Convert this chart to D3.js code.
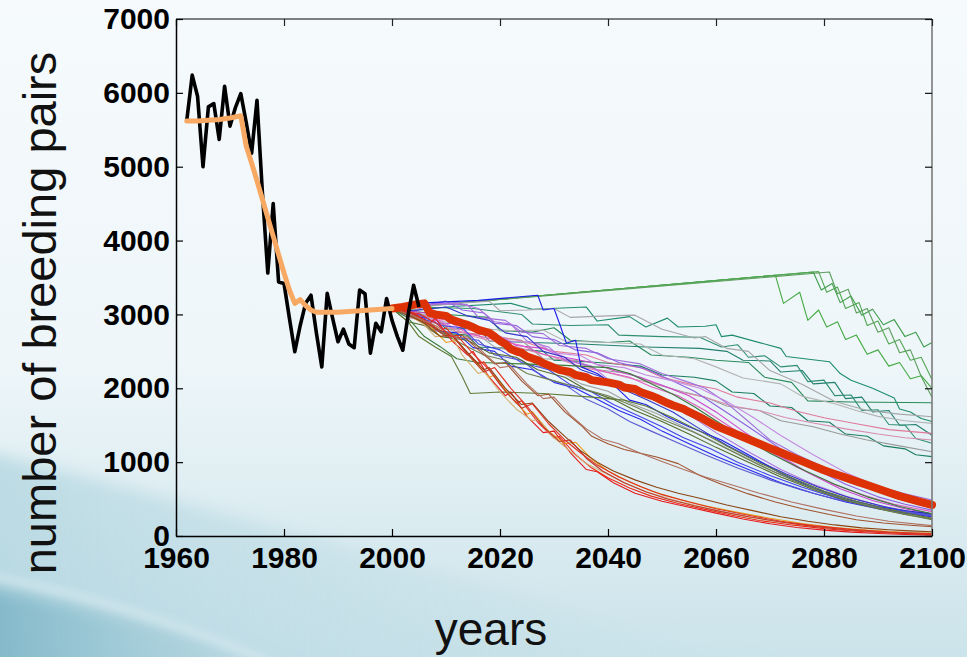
<!DOCTYPE html>
<html>
<head>
<meta charset="utf-8">
<script src="https://cdn.jsdelivr.net/npm/d3@7"></script>
<style>
  html, body { margin: 0; padding: 0; background: #f4f9fb; }
  svg { display: block; }
  .tick text { font-family: "Liberation Sans", Arial, sans-serif; font-weight: bold; font-size: 30px; fill: #000; }
  .title { font-family: "Liberation Sans", Arial, sans-serif; fill: #111; }
</style>
</head>
<body>
<svg id="chart" width="967" height="657"></svg>
<script>
// ---- axis ticks ----
const yearTicks = [1960, 1980, 2000, 2020, 2040, 2060, 2080, 2100];
const pairTicks = [0, 1000, 2000, 3000, 4000, 5000, 6000, 7000];

// ---- observed breeding pairs (census counts) ----
const observed = [
  [1962,5630],[1963,6240],[1964,5950],[1965,5000],[1966,5810],[1967,5855],[1968,5370],
  [1969,6090],[1970,5550],[1971,5800],[1972,5990],[1973,5600],[1974,5180],[1975,5900],
  [1976,4650],[1977,3560],[1978,4500],[1979,3440],[1980,3420],[1981,2950],[1982,2495],
  [1983,2850],[1984,3150],[1985,3260],[1986,2750],[1987,2290],[1988,3285],[1989,2950],
  [1990,2630],[1991,2800],[1992,2600],[1993,2550],[1994,3330],[1995,3280],[1996,2475],
  [1997,2880],[1998,2765],[1999,3215],[2000,2920],[2001,2700],[2002,2515],[2003,3000],
  [2004,3395],[2005,3100]
];

// ---- fitted model over the census period ----
const modelFit = [
  [1962,5620],[1964,5620],[1966,5630],[1968,5640],[1970,5660],[1972,5690],[1973,5280],
  [1974,5050],[1975,4810],[1976,4560],[1977,4310],[1978,4060],[1979,3810],[1980,3560],
  [1981,3330],[1982,3150],[1983,3200],[1984,3120],[1985,3060],[1986,3030],[1988,3030],
  [1990,3030],[1992,3040],[1994,3050],[1996,3060],[1998,3070],[2000,3080]
];

// ---- mean of the projected runs ----
const meanProjection = [
  [2000,3080],[2002,3100],[2004,3130],[2006,3150],[2007,3020],[2008,3000],[2010,2980],
  [2011,2930],[2013,2880],[2014,2860],[2016,2790],[2018,2750],[2019,2700],[2020,2640],
  [2021,2600],[2022,2530],[2023,2500],[2024,2480],[2025,2430],[2027,2380],[2028,2340],
  [2030,2280],[2031,2250],[2033,2220],[2034,2180],[2036,2150],[2037,2110],[2039,2090],
  [2040,2080],[2042,2050],[2043,2010],[2045,1990],[2046,1950],[2048,1900],[2049,1870],
  [2051,1800],[2052,1770],[2054,1720],[2055,1680],[2057,1610],[2058,1570],[2060,1490],
  [2062,1430],[2064,1370],[2066,1310],[2068,1250],[2070,1190],[2072,1130],[2074,1070],
  [2076,1010],[2078,950],[2080,890],[2082,840],[2084,790],[2086,740],[2088,690],
  [2090,640],[2092,590],[2094,540],[2096,500],[2098,460],[2100,420]
];

// ---- individual stochastic projection runs ----
const runColors = [
  "#44aa44","#3c9e4a","#52a852","#5c9e5c",
  "#1e8c6c","#2a8a5a","#23806e","#2f8f6f","#1a7d5e",
  "#a6a6a6","#b4b4b4","#9a9a9a","#a0a0a0",
  "#e07a9a","#d88cb0",
  "#a070d8","#cc44cc","#8f5fe0","#c58ae0","#e05cc0","#b070e0",
  "#1c1ce8","#2828f0","#3434c8","#4444ea","#5a5ad2",
  "#556b2f","#5f7a35","#6f7f4f","#3a7a3a",
  "#e41a1c","#f02a14","#e8a020","#d4b070","#a0522d","#8b4513","#c0392b","#b07060","#e03020"
];

const runs = [
  // green
  [[2000,3080],[2005,3110],[2071,3530],[2072.5,3150],[2075.5,3300],[2077,2920],[2079,3060],[2080.5,2830],[2082.5,2900],[2084,2660],[2086,2720],[2088,2460],[2090,2520],[2092,2300],[2094,2350],[2096,2130],[2098,2170],[2100,2000]],
  [[2000,3080],[2005,3110],[2078,3575],[2079.5,3330],[2081.5,3420],[2083,3160],[2085,3250],[2087,2990],[2089,3070],[2091,2860],[2093,2930],[2095,2700],[2097,2760],[2098.5,2560],[2100,2620]],
  [[2000,3080],[2005,3110],[2079,3580],[2080.5,3300],[2082.5,3370],[2084,3080],[2086.5,3160],[2088,2850],[2090,2910],[2092,2600],[2094,2660],[2096,2380],[2098,2420],[2100,2120]],
  [[2000,3080],[2005,3110],[2081,3575],[2082.5,3280],[2084.5,3340],[2086,3020],[2088,3080],[2090,2760],[2092,2820],[2094,2480],[2096,2520],[2098,2160],[2100,1880]],
  // teal
  [[2000,3080],[2004,3060],[2012,3110],[2022,3150],[2026,3070],[2036,3100],[2038,2910],[2044,2970],[2047,2830],[2051,2950],[2053,2830],[2058,2840],[2060,2860],[2061,2700],[2063,2720],[2072,2540],[2073,2430],[2081,2360],[2083,2200],[2085,2110],[2089,2000],[2093,1870],[2094,1720],[2096,1680],[2098,1590],[2100,1550]],
  [[2000,3080],[2004,3040],[2010,3000],[2018,2960],[2020,2780],[2026,2760],[2030,2820],[2033,2650],[2040,2620],[2044,2640],[2048,2450],[2055,2420],[2060,2380],[2066,2350],[2069,2150],[2074,2080],[2077,1830],[2085,1815],[2100,1805]],
  [[2000,3080],[2003,3000],[2008,2960],[2010,2800],[2016,2820],[2018,2640],[2026,2620],[2035,2600],[2047,2560],[2057,2540],[2062,2500],[2065,2380],[2070,2370],[2072,2220],[2076,2240],[2078,2060],[2082,2080],[2084,1860],[2087,1880],[2089,1680],[2092,1700],[2094,1500],[2097,1510],[2100,1365]],
  [[2000,3080],[2004,3100],[2015,3080],[2024,3000],[2026,2870],[2033,2850],[2040,2860],[2042,2720],[2050,2700],[2057,2690],[2061,2560],[2064,2590],[2066,2420],[2069,2440],[2072,2290],[2075,2310],[2077,2090],[2080,2110],[2082,1900],[2085,1910],[2087,1700],[2090,1710],[2092,1510],[2095,1500],[2097,1320],[2100,1255]],
  [[2000,3080],[2003,2980],[2007,2900],[2009,2750],[2014,2720],[2016,2560],[2022,2540],[2028,2500],[2030,2380],[2036,2360],[2040,2340],[2046,2300],[2050,2180],[2056,2150],[2060,2100],[2063,1950],[2067,1930],[2070,1760],[2074,1740],[2077,1560],[2081,1540],[2084,1380],[2088,1350],[2091,1220],[2095,1180],[2097,1100],[2100,1075]],
  // grey
  [[2000,3080],[2004,3090],[2012,3150],[2018,3180],[2020,3050],[2025,3060],[2030,3080],[2033,2960],[2040,2980],[2045,2990],[2050,2800],[2056,2680],[2058,2700],[2062,2540],[2066,2500],[2070,2240],[2076,2050],[2082,1820],[2088,1700],[2094,1650],[2100,1615]],
  [[2000,3080],[2003,3010],[2010,2980],[2014,2820],[2022,2780],[2028,2790],[2032,2640],[2040,2620],[2046,2600],[2050,2450],[2056,2400],[2060,2290],[2065,2140],[2072,2060],[2076,1890],[2082,1790],[2086,1700],[2090,1620],[2095,1560],[2100,1525]],
  [[2000,3080],[2004,3050],[2009,2900],[2015,2880],[2019,2700],[2024,2650],[2028,2400],[2034,2380],[2038,2250],[2044,2200],[2049,2050],[2054,1950],[2058,1880],[2062,1760],[2068,1700],[2072,1560],[2078,1480],[2083,1380],[2088,1300],[2094,1220],[2100,1140]],
  [[2000,3080],[2003,3020],[2008,2950],[2011,2780],[2016,2720],[2019,2560],[2024,2480],[2027,2300],[2031,2230],[2035,2060],[2040,1960],[2044,1800],[2049,1660],[2054,1480],[2059,1300],[2065,1080],[2071,860],[2077,680],[2083,520],[2089,400],[2095,310],[2100,245]],
  // pink
  [[2000,3080],[2004,3010],[2008,2950],[2012,2760],[2018,2720],[2024,2640],[2030,2500],[2036,2450],[2040,2350],[2046,2280],[2050,2150],[2055,2060],[2060,1990],[2064,1880],[2070,1800],[2075,1690],[2080,1600],[2086,1520],[2092,1440],[2100,1390]],
  [[2000,3080],[2003,2960],[2010,2850],[2015,2700],[2020,2620],[2026,2500],[2030,2420],[2035,2290],[2040,2210],[2045,2120],[2050,2040],[2054,1940],[2058,1880],[2063,1760],[2068,1700],[2073,1600],[2078,1530],[2084,1450],[2090,1380],[2095,1330],[2100,1300]],
  // purple / magenta
  [[2000,3080],[2004,3050],[2008,3150],[2014,3130],[2016,2960],[2021,2920],[2024,2760],[2028,2740],[2031,2580],[2036,2540],[2040,2400],[2046,2330],[2050,2200],[2055,2080],[2058,2000],[2062,1800],[2066,1550],[2070,1300],[2075,1100],[2080,930],[2085,790],[2090,670],[2095,570],[2100,487]],
  [[2000,3080],[2003,3050],[2007,3010],[2009,2870],[2013,2890],[2016,2740],[2020,2700],[2023,2580],[2028,2540],[2032,2420],[2037,2350],[2041,2240],[2046,2150],[2050,2040],[2055,1900],[2060,1680],[2065,1420],[2071,1120],[2077,860],[2083,640],[2089,480],[2095,370],[2100,300]],
  [[2000,3080],[2004,3100],[2010,3180],[2013,3060],[2017,3020],[2019,2880],[2023,2850],[2026,2700],[2030,2660],[2034,2520],[2038,2480],[2042,2350],[2047,2260],[2052,2100],[2056,1960],[2061,1720],[2066,1480],[2072,1180],[2078,920],[2084,700],[2090,530],[2095,430],[2100,350]],
  [[2000,3080],[2004,2990],[2009,2910],[2012,2800],[2018,2770],[2022,2640],[2027,2610],[2030,2480],[2035,2440],[2038,2320],[2043,2280],[2047,2180],[2052,2100],[2057,2000],[2062,1820],[2067,1600],[2072,1360],[2078,1100],[2084,860],[2090,670],[2095,540],[2100,430]],
  [[2000,3080],[2003,3000],[2006,2910],[2010,2930],[2014,2740],[2019,2660],[2024,2580],[2028,2460],[2033,2380],[2038,2250],[2044,2150],[2048,2020],[2053,1900],[2058,1700],[2063,1460],[2069,1180],[2075,930],[2081,720],[2087,560],[2093,430],[2100,330]],
  [[2000,3080],[2005,3120],[2012,3160],[2016,3080],[2019,2900],[2022,2870],[2025,2640],[2029,2560],[2032,2380],[2037,2300],[2040,2120],[2045,2020],[2050,1860],[2055,1640],[2060,1400],[2066,1140],[2072,900],[2078,700],[2084,540],[2090,420],[2095,330],[2100,265]],
  // blue
  [[2000,3080],[2004,3150],[2016,3190],[2027,3260],[2028,3060],[2030,3080],[2031,2880],[2032.3,2610],[2034,2650],[2035,2290],[2038,2200],[2041,2050],[2044,1840],[2047,1780],[2051,1615],[2055,1480],[2061,1300],[2066,1100],[2072,850],[2078,650],[2084,500],[2090,400],[2095,340],[2100,300]],
  [[2000,3080],[2003,3000],[2006,2950],[2008,2780],[2012,2750],[2015,2550],[2019,2500],[2022,2300],[2026,2250],[2030,2080],[2034,2000],[2038,1850],[2042,1700],[2046,1580],[2050,1420],[2055,1250],[2060,1080],[2066,900],[2072,720],[2078,580],[2084,460],[2090,370],[2095,310],[2100,260]],
  [[2000,3080],[2004,3050],[2010,3100],[2014,2980],[2018,2920],[2021,2750],[2025,2700],[2028,2500],[2032,2420],[2035,2250],[2039,2150],[2043,1980],[2047,1850],[2052,1680],[2057,1450],[2062,1230],[2067,1040],[2073,840],[2079,660],[2085,510],[2091,400],[2096,330],[2100,290]],
  [[2000,3080],[2005,3000],[2009,2850],[2013,2820],[2016,2600],[2020,2520],[2024,2350],[2029,2250],[2033,2050],[2037,1950],[2041,1780],[2045,1650],[2050,1480],[2054,1330],[2059,1180],[2064,1000],[2070,820],[2076,660],[2082,520],[2088,410],[2094,330],[2100,270]],
  [[2000,3080],[2004,2950],[2008,2900],[2011,2700],[2016,2650],[2019,2450],[2024,2380],[2028,2150],[2032,2050],[2036,1850],[2040,1720],[2044,1550],[2048,1420],[2053,1260],[2058,1100],[2064,920],[2070,760],[2076,620],[2082,500],[2088,410],[2094,340],[2100,280]],
  // olive / dark green
  [[2000,3080],[2003,2900],[2006,2850],[2009,2700],[2014,2650],[2018,2480],[2023,2420],[2027,2250],[2032,2150],[2036,1980],[2041,1850],[2045,1700],[2050,1550],[2055,1380],[2060,1200],[2066,1000],[2072,800],[2078,630],[2084,480],[2090,370],[2095,290],[2100,230]],
  [[2000,3080],[2003,2900],[2005,2700],[2008,2560],[2011,2430],[2013,2160],[2014.5,1930],[2020,1950],[2028,1930],[2037,1880],[2043,1840],[2047,1760],[2052,1600],[2057,1420],[2062,1220],[2068,990],[2074,790],[2080,610],[2086,470],[2092,360],[2100,240]],
  [[2000,3080],[2004,2950],[2008,2800],[2013,2600],[2017,2450],[2021,2380],[2025,2200],[2030,2100],[2035,2000],[2040,1900],[2045,1750],[2050,1580],[2056,1400],[2062,1180],[2068,960],[2074,760],[2080,590],[2086,450],[2092,340],[2100,220]],
  [[2000,3080],[2003,2950],[2006,2700],[2009,2560],[2012,2400],[2016,2350],[2024,2330],[2032,2310],[2040,2280],[2044,2200],[2048,2060],[2052,1920],[2056,1750],[2060,1560],[2065,1330],[2070,1120],[2076,900],[2082,700],[2088,530],[2094,400],[2100,300]],
  // red / orange / brown (fast decline)
  [[2000,3080],[2004,3020],[2007,2880],[2008,2950],[2011,2650],[2014,2450],[2015,2500],[2018,2150],[2021,1900],[2022,1950],[2025,1620],[2028,1400],[2030,1420],[2033,1130],[2036,900],[2038,870],[2041,720],[2045,580],[2050,470],[2055,390],[2060,310],[2065,230],[2070,165],[2075,115],[2080,80],[2085,52],[2090,33],[2095,20],[2100,12]],
  [[2000,3080],[2003,3040],[2006,2920],[2009,2780],[2010,2820],[2013,2560],[2016,2330],[2017,2360],[2020,2050],[2023,1800],[2024,1830],[2027,1540],[2030,1330],[2031,1350],[2034,1100],[2037,920],[2040,790],[2044,650],[2048,540],[2053,440],[2058,360],[2063,280],[2068,210],[2074,150],[2080,100],[2086,65],[2092,40],[2100,20]],
  [[2000,3080],[2004,2980],[2007,2850],[2010,2620],[2012,2650],[2015,2380],[2018,2150],[2019,2180],[2022,1880],[2025,1650],[2026,1680],[2029,1420],[2032,1250],[2034,1270],[2037,1040],[2040,880],[2044,730],[2048,610],[2053,500],[2058,410],[2064,320],[2070,240],[2076,170],[2082,115],[2088,80],[2094,55],[2100,40]],
  [[2000,3080],[2003,3000],[2006,2860],[2008,2700],[2011,2720],[2013,2450],[2016,2200],[2017,2230],[2020,1950],[2023,1720],[2026,1560],[2027,1580],[2030,1330],[2033,1150],[2036,980],[2039,870],[2043,720],[2047,600],[2052,490],[2057,400],[2063,300],[2069,220],[2075,160],[2081,110],[2087,75],[2093,55],[2100,45]],
  [[2000,3080],[2004,2960],[2008,2820],[2011,2700],[2013,2720],[2016,2520],[2019,2330],[2021,2350],[2024,2100],[2027,1900],[2029,1920],[2032,1680],[2035,1500],[2037,1350],[2040,1250],[2043,1170],[2046,1120],[2049,1070],[2053,980],[2057,820],[2061,700],[2066,570],[2071,460],[2076,370],[2081,290],[2086,220],[2091,175],[2096,145],[2100,126]],
  [[2000,3080],[2003,3000],[2006,2880],[2009,2700],[2011,2730],[2014,2480],[2017,2250],[2018,2280],[2021,2000],[2024,1780],[2026,1800],[2029,1550],[2032,1350],[2035,1150],[2038,1000],[2041,880],[2045,760],[2049,660],[2053,580],[2057,510],[2062,420],[2067,340],[2072,260],[2077,200],[2082,150],[2087,110],[2092,85],[2096,70],[2100,58]],
  [[2000,3080],[2004,3000],[2007,2860],[2010,2700],[2011,2730],[2014,2460],[2017,2220],[2018,2250],[2021,1960],[2024,1730],[2025,1760],[2028,1480],[2031,1280],[2033,1300],[2036,1050],[2039,880],[2043,720],[2047,600],[2051,500],[2056,410],[2061,330],[2066,260],[2072,190],[2078,130],[2084,85],[2090,55],[2095,38],[2100,25]],
  [[2000,3080],[2004,2980],[2008,2850],[2012,2680],[2014,2700],[2017,2480],[2020,2280],[2022,2300],[2025,2060],[2028,1860],[2030,1880],[2033,1640],[2036,1450],[2039,1310],[2042,1250],[2046,1120],[2050,1010],[2054,900],[2058,800],[2063,690],[2068,580],[2074,460],[2080,360],[2086,270],[2092,200],[2100,140]],
  [[2000,3080],[2005,3010],[2008,2890],[2011,2700],[2012,2720],[2015,2470],[2018,2250],[2019,2280],[2022,2000],[2025,1760],[2026,1790],[2029,1520],[2032,1300],[2035,1120],[2038,960],[2042,800],[2046,670],[2050,560],[2055,460],[2060,370],[2066,280],[2072,200],[2078,140],[2085,90],[2092,55],[2100,30]]
];

// ---- layout ----
const W = 967, H = 657;
const plot = { left: 176, right: 932, top: 19, bottom: 536 };

const svg = d3.select("#chart");
const defs = svg.append("defs");

// slide background: pale top, blue-teal towards the lower left
const bgGrad = defs.append("linearGradient").attr("id", "bgGrad")
  .attr("x1", 0).attr("y1", 0).attr("x2", 0).attr("y2", 1);
bgGrad.append("stop").attr("offset", "0%").attr("stop-color", "#f6fafc");
bgGrad.append("stop").attr("offset", "55%").attr("stop-color", "#eef6f9");
bgGrad.append("stop").attr("offset", "100%").attr("stop-color", "#cbe3ea");

const wedgeGrad = defs.append("linearGradient").attr("id", "wedgeGrad")
  .attr("x1", 0).attr("y1", 0).attr("x2", 1).attr("y2", 0);
wedgeGrad.append("stop").attr("offset", "0%").attr("stop-color", "#7db5c7").attr("stop-opacity", 0.95);
wedgeGrad.append("stop").attr("offset", "60%").attr("stop-color", "#9cc8d5").attr("stop-opacity", 0.5);
wedgeGrad.append("stop").attr("offset", "100%").attr("stop-color", "#b8d9e2").attr("stop-opacity", 0);

const lightGrad = defs.append("linearGradient").attr("id", "lightGrad")
  .attr("x1", 0).attr("y1", 0).attr("x2", 1).attr("y2", 0);
lightGrad.append("stop").attr("offset", "0%").attr("stop-color", "#a9d0dc").attr("stop-opacity", 0.65);
lightGrad.append("stop").attr("offset", "100%").attr("stop-color", "#c4e0e8").attr("stop-opacity", 0);

defs.append("filter").attr("id", "soft").attr("x", "-20%").attr("y", "-20%").attr("width", "140%").attr("height", "140%")
  .append("feGaussianBlur").attr("stdDeviation", 8);
defs.append("filter").attr("id", "soft2").attr("x", "-20%").attr("y", "-50%").attr("width", "140%").attr("height", "200%")
  .append("feGaussianBlur").attr("stdDeviation", 4);

const bg = svg.append("g");
bg.append("rect").attr("width", W).attr("height", H).attr("fill", "url(#bgGrad)");
bg.append("path").attr("d", "M-20,450 Q300,530 820,680 L-20,680 Z")
  .attr("fill", "url(#lightGrad)").attr("filter", "url(#soft)");
bg.append("path").attr("d", "M-20,585 Q150,618 330,680 L-20,680 Z")
  .attr("fill", "url(#wedgeGrad)").attr("filter", "url(#soft)");
bg.append("path").attr("d", "M-10,576 Q130,604 270,662")
  .attr("fill", "none").attr("stroke", "#ffffff").attr("stroke-opacity", 0.4)
  .attr("stroke-width", 6).attr("filter", "url(#soft2)");

// ---- scales ----
const x = d3.scaleLinear().domain([1960, 2100]).range([plot.left, plot.right]);
const y = d3.scaleLinear().domain([0, 7000]).range([plot.bottom, plot.top]);

const line = d3.line().x(d => x(d[0])).y(d => y(d[1]));

// projection runs
const gRuns = svg.append("g");
gRuns.selectAll("path").data(runs).join("path")
  .attr("d", line)
  .attr("fill", "none")
  .attr("stroke", (d, i) => runColors[i])
  .attr("stroke-width", 1.1)
  .attr("stroke-linejoin", "round");

// mean projection
svg.append("path").datum(meanProjection)
  .attr("d", line).attr("fill", "none")
  .attr("stroke", "#dc3205").attr("stroke-width", 8)
  .attr("stroke-linejoin", "round").attr("stroke-linecap", "round");

// observed counts
svg.append("path").datum(observed)
  .attr("d", line).attr("fill", "none")
  .attr("stroke", "#000").attr("stroke-width", 3.6)
  .attr("stroke-linejoin", "round");

// model fit
svg.append("path").datum(modelFit)
  .attr("d", line).attr("fill", "none")
  .attr("stroke", "#f7a862").attr("stroke-width", 5)
  .attr("stroke-linejoin", "round").attr("stroke-linecap", "round");

// ---- axes (box with inward ticks) ----
svg.append("line").attr("x1", plot.left).attr("x2", plot.right).attr("y1", plot.top).attr("y2", plot.top)
  .attr("stroke", "#555").attr("stroke-width", 1.4);
svg.append("line").attr("x1", plot.right).attr("x2", plot.right).attr("y1", plot.top).attr("y2", plot.bottom)
  .attr("stroke", "#7a7a7a").attr("stroke-width", 1.6);

const xTop = d3.axisTop(x).tickValues(yearTicks).tickSize(-7).tickSizeOuter(0).tickFormat("");
svg.append("g").attr("transform", `translate(0,${plot.top})`).call(xTop)
  .call(g => g.select(".domain").remove())
  .selectAll("line").attr("stroke", "#222").attr("stroke-width", 1.2);

const yRight = d3.axisRight(y).tickValues(pairTicks).tickSize(-7).tickSizeOuter(0).tickFormat("");
svg.append("g").attr("transform", `translate(${plot.right},0)`).call(yRight)
  .call(g => g.select(".domain").remove())
  .selectAll("line").attr("stroke", "#111").attr("stroke-width", 1.2);

const xAxis = d3.axisBottom(x).tickValues(yearTicks).tickSize(-7).tickSizeOuter(0)
  .tickPadding(11).tickFormat(d3.format("d"));
const gx = svg.append("g").attr("transform", `translate(0,${plot.bottom})`).call(xAxis);
gx.select(".domain").attr("stroke", "#000").attr("stroke-width", 1.5);
gx.selectAll(".tick line").attr("stroke", "#000").attr("stroke-width", 1.2);

const yAxis = d3.axisLeft(y).tickValues(pairTicks).tickSize(-7).tickSizeOuter(0)
  .tickPadding(6).tickFormat(d3.format("d"));
const gy = svg.append("g").attr("transform", `translate(${plot.left},0)`).call(yAxis);
gy.select(".domain").attr("stroke", "#000").attr("stroke-width", 1.5);
gy.selectAll(".tick line").attr("stroke", "#000").attr("stroke-width", 1.2);

svg.selectAll(".tick text").attr("font-family", null).attr("font-size", null).attr("fill", null);

// ---- axis titles ----
svg.append("text").attr("class", "title")
  .attr("transform", "translate(56,313) rotate(-90)")
  .attr("text-anchor", "middle").attr("font-size", 47)
  .text("number of breeding pairs");

svg.append("text").attr("class", "title")
  .attr("x", 491).attr("y", 645)
  .attr("text-anchor", "middle").attr("font-size", 46)
  .text("years");
</script>
</body>
</html>
